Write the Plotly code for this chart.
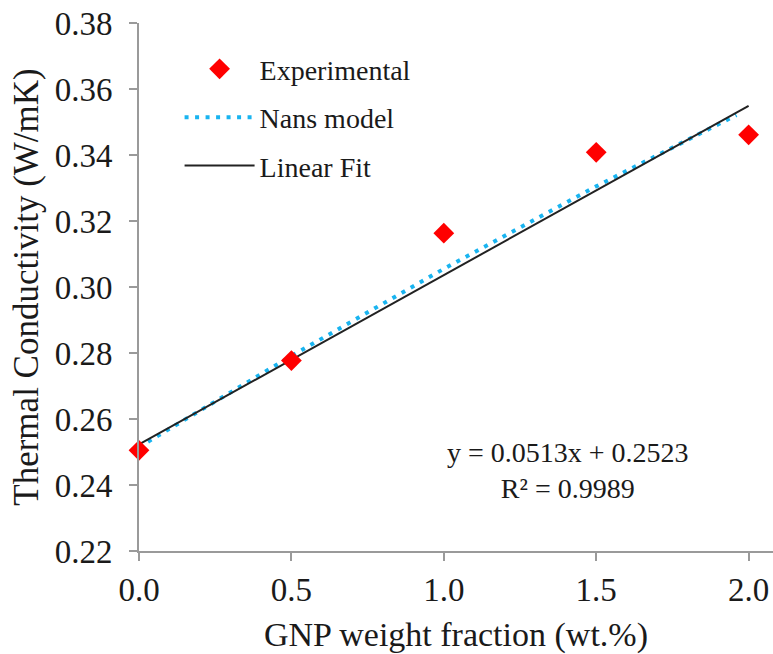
import plotly.graph_objects as go

# ---- data ----
gnp_wt = [0.0, 0.5, 1.0, 1.5, 2.0]
k_experimental = [0.2505, 0.2777, 0.3163, 0.3408, 0.3461]

nans_x = [0.0, 0.5, 1.0, 1.5, 1.96]
nans_y = [0.2515, 0.2791, 0.3055, 0.3305, 0.3521]

fit_x = [0.0, 2.0]
fit_y = [0.2523, 0.3549]

x_ticks = [0.0, 0.5, 1.0, 1.5, 2.0]
y_ticks = [0.22, 0.24, 0.26, 0.28, 0.30, 0.32, 0.34, 0.36, 0.38]

eq_text = "y = 0.0513x + 0.2523<br>R² = 0.9989"

FONT = "Liberation Serif, Times New Roman, serif"
TXT = "#1a1a1a"
AX = "#9a9a9a"

fig = go.Figure()
fig.add_trace(go.Scatter(
    x=nans_x, y=nans_y, mode="lines", name="Nans model", legendgroup="b",
    legendrank=2,
    line=dict(color="#19b4f0", width=4, dash="4px,6.5px"),
))
fig.add_trace(go.Scatter(
    x=fit_x, y=fit_y, mode="lines", name="Linear Fit", legendgroup="c",
    legendrank=3,
    line=dict(color="#222222", width=2),
))
fig.add_trace(go.Scatter(
    x=gnp_wt, y=k_experimental, mode="markers", name="Experimental",
    legendgroup="a", legendrank=1,
    marker=dict(symbol="diamond", size=16, color="#ff0000", line=dict(width=0)),
    cliponaxis=False,
))

fig.add_annotation(
    x=0.6764, y=0.1534, xref="paper", yref="paper",
    text=eq_text, showarrow=False, xanchor="center", yanchor="middle",
    font=dict(family=FONT, size=28, color=TXT), align="center",
)

fig.update_layout(
    width=773, height=654,
    margin=dict(l=139, r=0, t=23, b=103),
    paper_bgcolor="white", plot_bgcolor="white",
    font=dict(family=FONT, color=TXT),
    showlegend=True,
    legend=dict(
        x=0.064, y=0.96, xanchor="left", yanchor="top",
        bgcolor="rgba(0,0,0,0)", font=dict(family=FONT, size=28, color=TXT),
        itemwidth=70, tracegroupgap=9,
    ),
    xaxis=dict(
        range=[0, 2.08], tickvals=x_ticks, tickformat=".1f",
        showgrid=False, zeroline=False, showline=True, linecolor=AX, linewidth=2,
        ticks="outside", ticklen=8, tickwidth=2, tickcolor=AX,
        tickfont=dict(family=FONT, size=33, color=TXT), ticklabelstandoff=0,
        title=dict(text="GNP weight fraction (wt.%)", font=dict(family=FONT, size=34, color=TXT), standoff=16),
    ),
    yaxis=dict(
        range=[0.22, 0.38], tickvals=y_ticks, tickformat=".2f",
        showgrid=False, zeroline=False, showline=True, linecolor=AX, linewidth=2,
        ticks="outside", ticklen=8, tickwidth=2, tickcolor=AX,
        tickfont=dict(family=FONT, size=33, color=TXT), ticklabelstandoff=10,
        title=dict(text="Thermal Conductivity (W/mK)", font=dict(family=FONT, size=35, color=TXT), standoff=5),
    ),
)

fig.write_html("out.html")
